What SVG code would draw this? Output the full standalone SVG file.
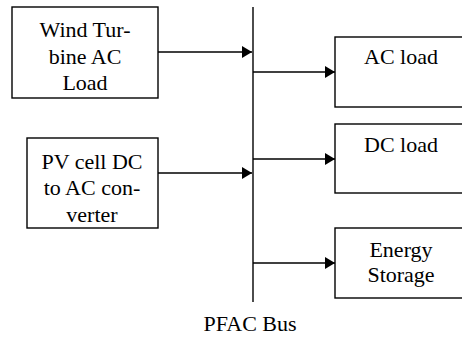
<svg xmlns="http://www.w3.org/2000/svg" width="462" height="337" viewBox="0 0 462 337">
<style>
.box{fill:#fff;stroke:#000;stroke-width:1.4}
.t{font-family:'Liberation Serif','Times New Roman',Times,'DejaVu Serif',serif;font-size:22px;fill:#000;text-anchor:middle}
.c{stroke:#000;stroke-width:1.4;fill:none}
</style>
<defs>
<marker id="ah" markerWidth="10" markerHeight="12" refX="10" refY="6" orient="auto" markerUnits="userSpaceOnUse">
<path d="M0,0 L10,6 L0,12 Z" fill="#000"/>
</marker>
</defs>
<rect width="462" height="337" fill="#fff"/>
<g id="wind">
<rect class="box" x="12" y="7" width="146" height="91"/>
<text class="t" x="85" y="37" font-family="Liberation Serif">Wind Tur-</text>
<text class="t" x="85" y="64">bine AC</text>
<text class="t" x="85" y="90">Load</text>
</g>
<g id="pv">
<rect class="box" x="27" y="138" width="131" height="90"/>
<text class="t" x="92" y="169">PV cell DC</text>
<text class="t" x="92" y="195">to AC con-</text>
<text class="t" x="92" y="222">verter</text>
</g>
<g id="acload">
<rect class="box" x="335" y="37" width="135" height="70"/>
<text class="t" x="401" y="64">AC load</text>
</g>
<g id="dcload">
<rect class="box" x="335" y="124" width="135" height="69"/>
<text class="t" x="401" y="152">DC load</text>
</g>
<g id="storage">
<rect class="box" x="335" y="228" width="135" height="70"/>
<text class="t" x="401" y="257">Energy</text>
<text class="t" x="401" y="282">Storage</text>
</g>
<g id="bus">
<line class="c" x1="253" y1="7" x2="253" y2="302"/>
<text class="t" x="250" y="331">PFAC Bus</text>
</g>
<g id="connectors">
<line class="c" x1="158" y1="52" x2="252" y2="52" marker-end="url(#ah)"/>
<line class="c" x1="158" y1="173" x2="252" y2="173" marker-end="url(#ah)"/>
<line class="c" x1="253" y1="72" x2="335" y2="72" marker-end="url(#ah)"/>
<line class="c" x1="253" y1="159" x2="335" y2="159" marker-end="url(#ah)"/>
<line class="c" x1="253" y1="263" x2="335" y2="263" marker-end="url(#ah)"/>
</g>
</svg>
